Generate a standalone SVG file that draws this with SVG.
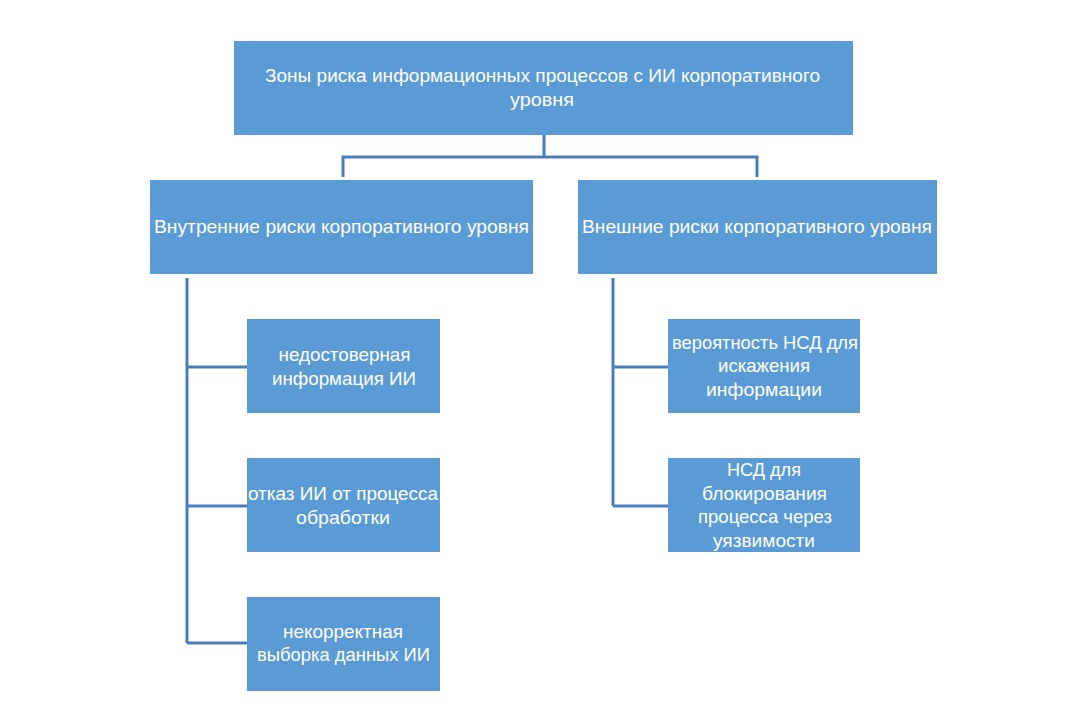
<svg xmlns="http://www.w3.org/2000/svg" width="1074" height="723" viewBox="0 0 1074 723">
<style>
.box{fill:#5B9BD5;}
.t{font-family:"Liberation Sans","Noto Sans",sans-serif;font-size:18px;fill:#FFFFFF;text-anchor:middle;}
.c{font-size:19px;}
.ln{stroke:#4A7EBB;stroke-width:3;fill:none;}
</style>
<rect width="1074" height="723" fill="#FFFFFF"/>
<g id="connectors">
<path class="ln" d="M544 135 V157 M343 177 V157 H757 V177"/>
<path class="ln" d="M187 278 V643 M187 367 H247 M187 506 H247 M187 643 H247"/>
<path class="ln" d="M613 278 V506 M613 367 H668 M613 506 H668"/>
</g>
<g id="root">
<rect class="box" x="234" y="41" width="619" height="94"/>
<text class="t" x="542.5" y="82" textLength="555" lengthAdjust="spacingAndGlyphs">Зоны риска информационных процессов с ИИ корпоративного</text>
<text class="t" x="542" y="106" textLength="64" lengthAdjust="spacingAndGlyphs">уровня</text>
</g>
<g id="internal">
<rect class="box" x="150" y="180" width="383" height="94"/>
<text class="t" x="341.5" y="233" textLength="375" lengthAdjust="spacingAndGlyphs">Внутренние риски корпоративного уровня</text>
</g>
<g id="external">
<rect class="box" x="578" y="180" width="359" height="94"/>
<text class="t" x="757" y="233" textLength="350" lengthAdjust="spacingAndGlyphs">Внешние риски корпоративного уровня</text>
</g>
<g id="i1">
<rect class="box" x="247" y="319" width="193" height="94"/>
<text class="t c" x="344.5" y="361" textLength="132" lengthAdjust="spacingAndGlyphs">недостоверная</text>
<text class="t c" x="344" y="385" textLength="144" lengthAdjust="spacingAndGlyphs">информация ИИ</text>
</g>
<g id="i2">
<rect class="box" x="247" y="458" width="193" height="94"/>
<text class="t c" x="343" y="500" textLength="190" lengthAdjust="spacingAndGlyphs">отказ ИИ от процесса</text>
<text class="t c" x="343" y="524" textLength="94" lengthAdjust="spacingAndGlyphs">обработки</text>
</g>
<g id="i3">
<rect class="box" x="247" y="597" width="193" height="94"/>
<text class="t c" x="343" y="638" textLength="120" lengthAdjust="spacingAndGlyphs">некорректная</text>
<text class="t c" x="343.5" y="661" textLength="173" lengthAdjust="spacingAndGlyphs">выборка данных ИИ</text>
</g>
<g id="e1">
<rect class="box" x="668" y="319" width="192" height="94"/>
<text class="t c" x="765" y="349" textLength="186" lengthAdjust="spacingAndGlyphs">вероятность НСД для</text>
<text class="t c" x="764" y="372" textLength="92" lengthAdjust="spacingAndGlyphs">искажения</text>
<text class="t c" x="764" y="396" textLength="116" lengthAdjust="spacingAndGlyphs">информации</text>
</g>
<g id="e2">
<rect class="box" x="668" y="458" width="192" height="94"/>
<text class="t c" x="764" y="476" textLength="74" lengthAdjust="spacingAndGlyphs">НСД для</text>
<text class="t c" x="764.5" y="500" textLength="125" lengthAdjust="spacingAndGlyphs">блокирования</text>
<text class="t c" x="765" y="523" textLength="134" lengthAdjust="spacingAndGlyphs">процесса через</text>
<text class="t c" x="764" y="547" textLength="102" lengthAdjust="spacingAndGlyphs">уязвимости</text>
</g>
</svg>
